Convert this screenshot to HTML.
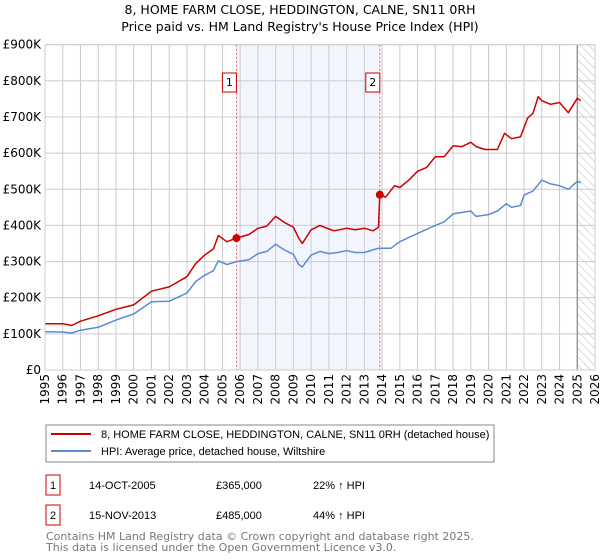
<!DOCTYPE html>
<html><head><meta charset="utf-8"><style>
body{margin:0;background:#fff;font-family:"Liberation Sans","DejaVu Sans",sans-serif;}
#wrap{position:relative;width:600px;height:560px;overflow:hidden;}
.dv{font-family:"DejaVu Sans","Liberation Sans",sans-serif;}
</style></head><body>
<div id="wrap">
<svg id="chart" width="600" height="560" xmlns="http://www.w3.org/2000/svg">
<defs>
<pattern id="hatch" width="6" height="6" patternUnits="userSpaceOnUse" patternTransform="rotate(-45)">
<line x1="0" y1="0" x2="0" y2="6" stroke="#bbb" stroke-width="1"/>
</pattern>
</defs>
<text class="dv" x="300" y="14" text-anchor="middle" font-size="12.5" fill="#000">8, HOME FARM CLOSE, HEDDINGTON, CALNE, SN11 0RH</text>
<text class="dv" x="300" y="31" text-anchor="middle" font-size="12.5" fill="#000">Price paid vs. HM Land Registry's House Price Index (HPI)</text>
<g id="plot"></g>
<g>
<rect x="46" y="425" width="448" height="37" fill="#fff" stroke="#888"/>
<line x1="51" y1="434" x2="91" y2="434" stroke="#cc0000" stroke-width="2"/>
<text x="101" y="438" font-size="11">8, HOME FARM CLOSE, HEDDINGTON, CALNE, SN11 0RH (detached house)</text>
<line x1="51" y1="451" x2="91" y2="451" stroke="#5b8bd0" stroke-width="2"/>
<text x="101" y="455" font-size="11">HPI: Average price, detached house, Wiltshire</text>
</g>
<g>
<rect x="46" y="475" width="14" height="20" fill="#fff" stroke="#cc0000"/>
<text x="53" y="489" font-size="11" text-anchor="middle">1</text>
<text x="89" y="489" font-size="11">14-OCT-2005</text>
<text x="216" y="489" font-size="11">£365,000</text>
<text x="313" y="489" font-size="11">22% ↑ HPI</text>
<rect x="46" y="505" width="14" height="20" fill="#fff" stroke="#cc0000"/>
<text x="53" y="519" font-size="11" text-anchor="middle">2</text>
<text x="89" y="519" font-size="11">15-NOV-2013</text>
<text x="216" y="519" font-size="11">£485,000</text>
<text x="313" y="519" font-size="11">44% ↑ HPI</text>
</g>
<text class="dv" x="46" y="540" font-size="11" fill="#777">Contains HM Land Registry data © Crown copyright and database right 2025.</text>
<text class="dv" x="46" y="551" font-size="11" fill="#777">This data is licensed under the Open Government Licence v3.0.</text>
</svg>
</div>
<script>
const hpiYears=[1995,1996,1996.5,1997,1998,1999,2000,2001,2002,2003,2003.5,2004,2004.5,2004.77,2005.25,2005.79,2006.5,2007,2007.5,2008,2008.5,2009,2009.3,2009.5,2010,2010.5,2011,2011.5,2012,2012.5,2013,2013.8,2014.5,2015,2016,2017,2017.5,2018,2019,2019.3,2020,2020.5,2021,2021.3,2021.8,2022,2022.5,2023,2023.5,2024,2024.5,2025,2025.2];
const hpiValues=[106,105,102,110,118,138,155,189,190,213,245,262,275,302,292,300,305,322,328,348,332,320,292,285,318,328,322,325,330,325,325,337,337,355,378,400,410,432,440,425,430,440,460,450,455,484,495,525,515,510,500,522,518];
const priceYears=[1995,1996,1996.5,1997,1998,1999,2000,2001,2002,2003,2003.5,2004,2004.5,2004.77,2005.25,2005.79,2006.5,2007,2007.5,2008,2008.5,2009,2009.3,2009.5,2010,2010.5,2011,2011.3,2012,2012.5,2013,2013.5,2013.8,2013.87,2014.2,2014.7,2015,2015.5,2016,2016.5,2017,2017.5,2018,2018.5,2019,2019.3,2019.8,2020.5,2020.9,2021.3,2021.8,2022.2,2022.5,2022.8,2023,2023.5,2024,2024.5,2025,2025.2];
const priceValues=[128,128,123,135,150,168,180,218,230,258,295,318,335,372,355,365,375,392,398,425,408,395,365,350,388,400,390,385,392,388,392,385,395,485,478,510,505,525,550,560,590,590,620,618,630,618,610,610,655,640,645,697,710,756,745,735,740,712,752,745];
const yTicks=[0,100,200,300,400,500,600,700,800,900];
const yTickLabels=["£0","£100K","£200K","£300K","£400K","£500K","£600K","£700K","£800K","£900K"];
const xTicks=[1995,1996,1997,1998,1999,2000,2001,2002,2003,2004,2005,2006,2007,2008,2009,2010,2011,2012,2013,2014,2015,2016,2017,2018,2019,2020,2021,2022,2023,2024,2025,2026];
const saleYears=[2005.79,2013.87];
const saleValues=[365,485];
const saleLabels=["1","2"];

const L=45,R=595,T=44.7,B=370;
const xs=y=>L+(y-1995)/(2026-1995)*(R-L);
const ys=v=>B-v/900*(B-T);
const NS="http://www.w3.org/2000/svg";
const g=document.getElementById('plot');
function mk(tag,attrs,parent){const e=document.createElementNS(NS,tag);for(const k in attrs)e.setAttribute(k,attrs[k]);(parent||g).appendChild(e);return e;}

let sh=mk('rect',{x:xs(saleYears[0]),y:T,width:xs(saleYears[1])-xs(saleYears[0]),height:B-T,fill:'#f2f5fd'});


let ht=mk('rect',{x:xs(2025),y:T,width:R-xs(2025),height:B-T,fill:'url(#hatch)'});



yTicks.forEach((t,i)=>{
  let l=mk('line',{x1:L,x2:R,y1:ys(t),y2:ys(t),stroke:'#cccccc','stroke-width':1});
  
  
  let tx=mk('text',{x:L-4,y:ys(t)+4,'text-anchor':'end','font-size':12,fill:'#000','class':'dv'});
  tx.textContent=yTickLabels[i];
  
  
});
xTicks.forEach(t=>{
  let l=mk('line',{x1:xs(t),x2:xs(t),y1:T,y2:B,stroke:'#cccccc','stroke-width':1});
  
  
  let tx=mk('text',{x:0,y:0,'text-anchor':'end','font-size':12,fill:'#000','class':'dv',transform:`translate(${xs(t)+4},${B+4}) rotate(-90)`});
  tx.textContent=t;
  
  
});
let dl=mk('line',{x1:xs(2025),x2:xs(2025),y1:T,y2:B,stroke:'#888','stroke-width':1.2});



saleYears.forEach((y,i)=>{
  let l=mk('line',{x1:xs(y),x2:xs(y),y1:T,y2:B,stroke:'#e06060','stroke-width':1,'stroke-dasharray':'2,2'});
  
  
});

function path(xv,yv,color,name){
  let d=xv.map((x,i)=>(i?'L':'M')+xs(x).toFixed(1)+','+ys(yv[i]).toFixed(1)).join('');
  let p=mk('path',{d:d,fill:'none',stroke:color,'stroke-width':1.5,'stroke-linejoin':'round'});
  
  
}
path(hpiYears,hpiValues,'#5b8bd0','hpi-line');
path(priceYears,priceValues,'#cc0000','price-line');

saleYears.forEach((y,i)=>{
  let c=mk('circle',{cx:xs(y),cy:ys(saleValues[i]),r:4,fill:'#cc0000'});
  
  
  let b=mk('rect',{x:xs(y)-14,y:73,width:14,height:19,fill:'#fff',stroke:'#cc0000'});
  
  
  let t=mk('text',{x:xs(y)-7,y:86,'text-anchor':'middle','font-size':11,'class':'dv'});
  t.textContent=saleLabels[i];
  
  
});
let fr=mk('rect',{x:L,y:T,width:R-L,height:B-T,fill:'none',stroke:'#cccccc'});


</script>
</body></html>
